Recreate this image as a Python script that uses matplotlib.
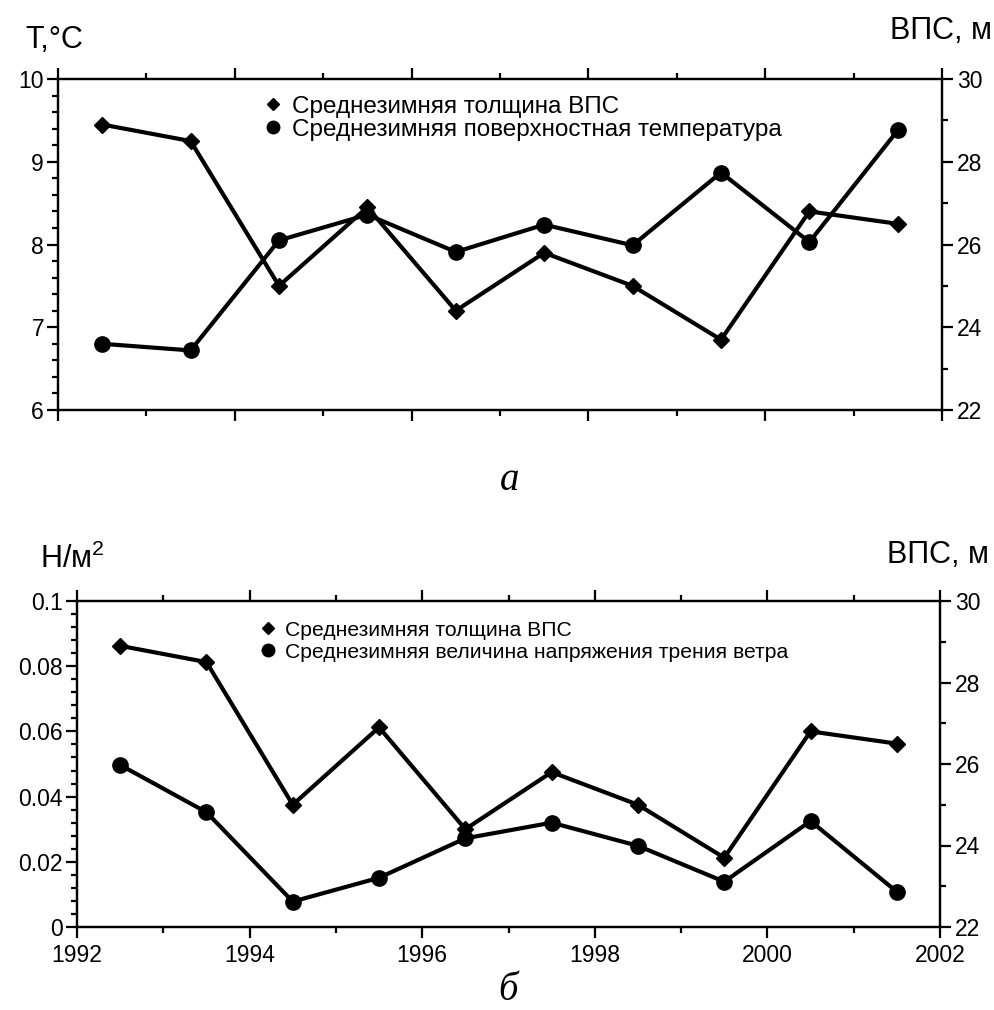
import matplotlib
matplotlib.use("Agg")
import matplotlib.pyplot as plt
from matplotlib.lines import Line2D
from matplotlib.ticker import MultipleLocator

plt.rcParams['font.family'] = ['Liberation Sans', 'DejaVu Sans']
plt.rcParams['mathtext.fontset'] = 'custom'
plt.rcParams['mathtext.rm'] = 'Liberation Sans'
plt.rcParams['mathtext.it'] = 'Liberation Sans'

# Winter means, 1992/93 ... 2001/02 (plotted at mid-season)
years = [1992.5, 1993.5, 1994.5, 1995.5, 1996.5, 1997.5, 1998.5, 1999.5, 2000.5, 2001.5]
mld_thickness = [28.9, 28.5, 25.0, 26.9, 24.4, 25.8, 25.0, 23.7, 26.8, 26.5]   # ВПС, м
surface_temp = [6.80, 6.72, 8.05, 8.36, 7.91, 8.24, 7.99, 8.87, 8.03, 9.38]   # T, °C
wind_stress = [0.0497, 0.0352, 0.0078, 0.0151, 0.0272, 0.0320, 0.0249, 0.0139, 0.0325, 0.0108]  # Н/м²

label_mld = "Среднезимняя толщина ВПС"
label_temp = "Среднезимняя поверхностная температура"
label_tau = "Среднезимняя величина напряжения трения ветра"

W, H = 995, 1010
fig = plt.figure(figsize=(W / 100, H / 100), dpi=100)


def px_axes(left, top, right, bottom):
    return fig.add_axes([left / W, 1 - bottom / H, (right - left) / W, (bottom - top) / H])


LW_AX = 1.6
TICK_FS = 16.5


def style(ax, ax2, ylim, ymaj, ymin, show_x):
    ax.set_xlim(1992, 2002)
    ax.xaxis.set_major_locator(MultipleLocator(2))
    ax.xaxis.set_minor_locator(MultipleLocator(1))
    ax.set_ylim(*ylim)
    ax.yaxis.set_major_locator(MultipleLocator(ymaj))
    ax.yaxis.set_minor_locator(MultipleLocator(ymin))
    ax2.set_ylim(22, 30)
    ax2.yaxis.set_major_locator(MultipleLocator(2))
    ax2.yaxis.set_minor_locator(MultipleLocator(1))
    for a in (ax, ax2):
        for s in a.spines.values():
            s.set_linewidth(LW_AX)
    ax.tick_params(axis='x', which='both', direction='out', top=True, bottom=True,
                   labelbottom=show_x, width=LW_AX, labelsize=TICK_FS, pad=4)
    ax.tick_params(axis='y', which='both', direction='out', left=True, right=False,
                   width=LW_AX, labelsize=TICK_FS, pad=2)
    ax2.tick_params(axis='y', which='both', direction='out', right=True, left=False,
                    width=LW_AX, labelsize=TICK_FS, pad=3)
    for a in (ax, ax2):
        a.tick_params(which='major', length=8)
        a.tick_params(which='minor', length=4.5)


def legend(ax, labels, anchor, fs, spacing):
    handles = [
        Line2D([], [], color='black', marker='D', linestyle='none', markersize=6.5),
        Line2D([], [], color='black', marker='o', linestyle='none', markersize=9),
    ]
    ax.legend(handles, labels, loc='upper left', bbox_to_anchor=anchor, frameon=False,
              fontsize=fs, handlelength=1.0, handletextpad=0.3, borderpad=0,
              borderaxespad=0, labelspacing=spacing)


# --- panel а: temperature vs mixed-layer thickness ---
ax_a = px_axes(58, 79, 942, 410)
ax_a2 = ax_a.twinx()
style(ax_a, ax_a2, (6, 10), 1, 0.2, False)
ax_a2.plot(years, mld_thickness, color='black', lw=3, marker='D', markersize=8.5, zorder=3)
ax_a2.plot(years, surface_temp, color='black', lw=3, marker='o', markersize=11,
           transform=ax_a.transData, zorder=3)
legend(ax_a2, [label_mld, label_temp], (0.229, 0.949), 17.5, 0.03)

fig.text(25 / W, 1 - 48 / H, "T,°C", fontsize=22, ha='left', va='baseline')
fig.text(992 / W, 1 - 39 / H, "ВПС, м", fontsize=22, ha='right', va='baseline')
fig.text(510 / W, 1 - 490 / H, "а", fontsize=28, fontstyle='italic',
         family='Liberation Serif', ha='center', va='baseline')

# --- panel б: wind stress vs mixed-layer thickness ---
ax_b = px_axes(77, 601, 940, 927)
ax_b2 = ax_b.twinx()
style(ax_b, ax_b2, (0, 0.1), 0.02, 0.004, True)
ax_b.set_yticks([0, 0.02, 0.04, 0.06, 0.08, 0.1])
ax_b.set_yticklabels(["0", "0.02", "0.04", "0.06", "0.08", "0.1"])
ax_b.set_xticks([1992, 1994, 1996, 1998, 2000, 2002])
ax_b.set_xticklabels(["1992", "1994", "1996", "1998", "2000", "2002"])
ax_b2.plot(years, mld_thickness, color='black', lw=3, marker='D', markersize=8.5, zorder=3)
ax_b2.plot(years, wind_stress, color='black', lw=3, marker='o', markersize=11,
           transform=ax_b.transData, zorder=3)
legend(ax_b2, [label_mld, label_tau], (0.209, 0.939), 15.2, 0.13)

fig.text(40 / W, 1 - 568 / H, "Н/м$^2$", fontsize=22, ha='left', va='baseline')
fig.text(989 / W, 1 - 563 / H, "ВПС, м", fontsize=22, ha='right', va='baseline')
fig.text(508 / W, 1 - 1000 / H, "б", fontsize=28, fontstyle='italic',
         family='Liberation Serif', ha='center', va='baseline')

fig.savefig("out.png", dpi=100)
